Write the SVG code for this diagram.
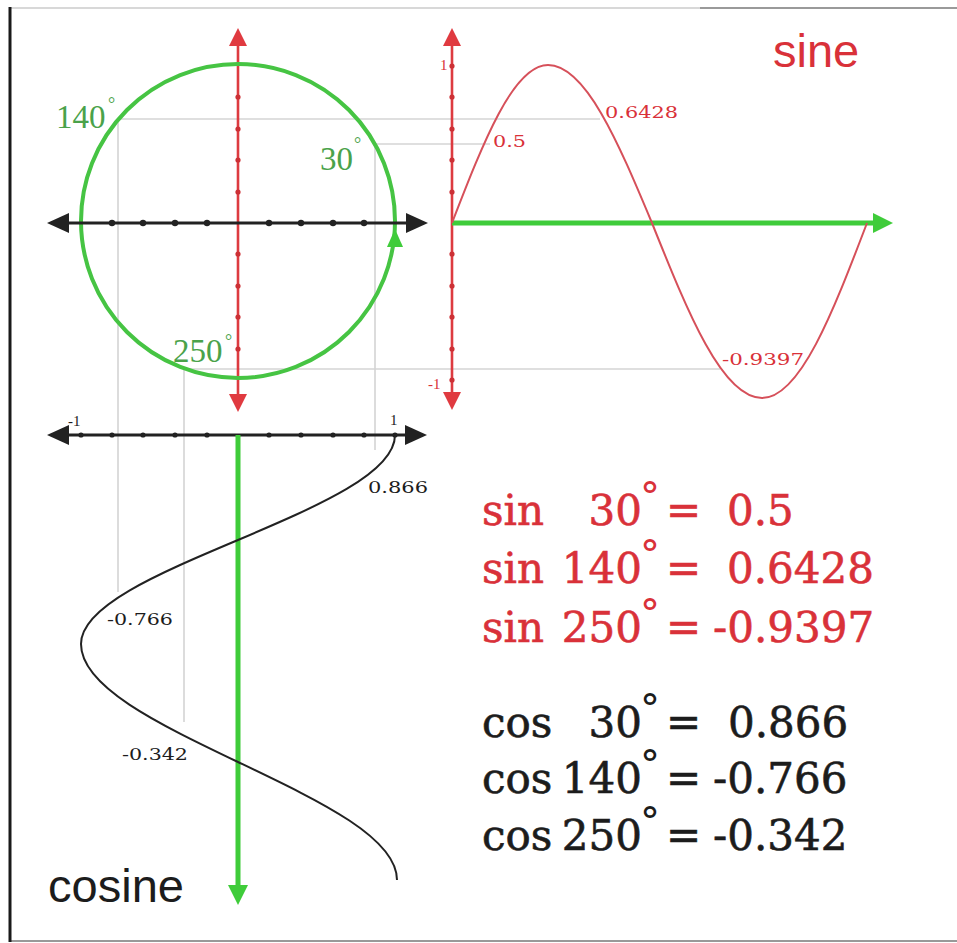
<svg xmlns="http://www.w3.org/2000/svg" width="957" height="943" viewBox="0 0 957 943">
<style>
.guide{stroke:#d4d4d4;stroke-width:1.6;fill:none}
.bax{stroke:#222;stroke-width:3;fill:none}
.rax{stroke:#dd3b40;stroke-width:2.6;fill:none}
.gax{stroke:#3fcc3a;stroke-width:5;fill:none}
.btick{fill:#222}
.rtick{fill:#cc3035}
.eq{font-family:"DejaVu Serif","Liberation Serif",serif;font-size:42px;stroke-width:0.6}
.deg{font-family:"DejaVu Serif","Liberation Serif",serif;font-size:40px}
.red{fill:#d93139}
.blk{fill:#1c1c1c}
#sin-values .eq{stroke:#d93139}
#cos-values .eq{stroke:#1c1c1c}
.glab{font-family:"Liberation Serif","Times New Roman",serif;font-size:33px;fill:#4aa24a}
.gdeg{font-family:"Liberation Serif","Times New Roman",serif;font-size:18px;fill:#4aa24a}
.small{font-family:"DejaVu Serif","Liberation Serif",serif;font-size:16px}
.ax{font-family:"Liberation Serif","Times New Roman",serif;font-size:15px}
.title{font-family:"Liberation Sans",Arial,sans-serif;font-size:47px}
</style>
<defs>
<marker id="ab" markerUnits="userSpaceOnUse" markerWidth="22" markerHeight="20" refX="0" refY="10" orient="auto-start-reverse"><path d="M0,0 L22,10 L0,20 z" fill="#222"/></marker>
<marker id="ar" markerUnits="userSpaceOnUse" markerWidth="18" markerHeight="18" refX="0" refY="9" orient="auto-start-reverse"><path d="M0,0 L18,9 L0,18 z" fill="#e03a40"/></marker>
<marker id="ag" markerUnits="userSpaceOnUse" markerWidth="20" markerHeight="20" refX="0" refY="10" orient="auto-start-reverse"><path d="M0,0 L20,10 L0,20 z" fill="#3fcc3a"/></marker>
</defs>
<rect x="0" y="0" width="957" height="943" fill="#fff"/>
<g id="frame">
<line x1="10" y1="8" x2="957" y2="8" stroke="#d8d8d8" stroke-width="2"/>
<line x1="700" y1="8" x2="957" y2="8" stroke="#9a9a9a" stroke-width="2"/>
<line x1="10" y1="941" x2="957" y2="941" stroke="#999" stroke-width="2"/>
<line x1="10" y1="7" x2="10" y2="942" stroke="#1a1a1a" stroke-width="3"/>
</g>
<g id="connectors">
<line class="guide" x1="118" y1="119" x2="600" y2="119"/>
<line class="guide" x1="374" y1="144" x2="490" y2="144"/>
<line class="guide" x1="184" y1="369" x2="720" y2="369"/>
<line class="guide" x1="118" y1="119" x2="118" y2="592"/>
<line class="guide" x1="184" y1="369" x2="184" y2="722"/>
<line class="guide" x1="375" y1="143" x2="375" y2="450"/>
</g>
<g id="unit-circle">
<line class="rax" x1="238" y1="46" x2="238" y2="394" marker-start="url(#ar)" marker-end="url(#ar)"/>
<g class="rtick">
<circle cx="238" cy="97" r="2.6"/><circle cx="238" cy="129" r="2.6"/><circle cx="238" cy="160" r="2.6"/><circle cx="238" cy="192" r="2.6"/>
<circle cx="238" cy="254" r="2.6"/><circle cx="238" cy="286" r="2.6"/><circle cx="238" cy="317" r="2.6"/><circle cx="238" cy="349" r="2.6"/>
</g>
<circle cx="238" cy="221" r="157" fill="none" stroke="#46c443" stroke-width="4"/>
<line class="bax" x1="69" y1="223" x2="406" y2="223" marker-start="url(#ab)" marker-end="url(#ab)"/>
<g class="btick">
<circle cx="112" cy="223" r="3.2"/><circle cx="143" cy="223" r="3.2"/><circle cx="175" cy="223" r="3.2"/><circle cx="207" cy="223" r="3.2"/>
<circle cx="269" cy="223" r="3.2"/><circle cx="301" cy="223" r="3.2"/><circle cx="333" cy="223" r="3.2"/><circle cx="364" cy="223" r="3.2"/>
</g>
<path d="M395,229 L387,247 L403,247 z" fill="#3fcc3a"/>
<text class="glab" x="56" y="128">140</text><text class="gdeg" x="108" y="110">°</text>
<text class="glab" x="320" y="170">30</text><text class="gdeg" x="354" y="150">°</text>
<text class="glab" x="173" y="362">250</text><text class="gdeg" x="225" y="347">°</text>
</g>
<g id="sine-graph">
<line class="rax" x1="452" y1="46" x2="452" y2="392" marker-start="url(#ar)" marker-end="url(#ar)"/>
<g class="rtick">
<circle cx="452" cy="66" r="2.6"/><circle cx="452" cy="97" r="2.6"/><circle cx="452" cy="129" r="2.6"/><circle cx="452" cy="160" r="2.6"/><circle cx="452" cy="192" r="2.6"/>
<circle cx="452" cy="254" r="2.6"/><circle cx="452" cy="286" r="2.6"/><circle cx="452" cy="317" r="2.6"/><circle cx="452" cy="349" r="2.6"/><circle cx="452" cy="380" r="2.6"/>
</g>
<text class="ax red" x="440" y="70">1</text>
<text class="ax red" x="428" y="389">-1</text>
<line class="gax" x1="452" y1="223" x2="873" y2="223" marker-end="url(#ag)"/>
<path d="M452,223 C483.3,142.1 513.3,65 548,65 C585.6,65 618.1,142.1 652,223 C687.9,312.6 722.2,398 762,398 C800,398 832.8,312.6 867,223" fill="none" stroke="#d6505a" stroke-width="2"/>
<text class="small red" x="493" y="147" textLength="33" lengthAdjust="spacingAndGlyphs">0.5</text>
<text class="small red" x="605" y="118" textLength="73" lengthAdjust="spacingAndGlyphs">0.6428</text>
<text class="small red" x="722" y="365" textLength="82" lengthAdjust="spacingAndGlyphs">-0.9397</text>
<text class="title red" x="773" y="67">sine</text>
</g>
<g id="cosine-graph">
<line class="bax" x1="69" y1="435" x2="405" y2="435" marker-start="url(#ab)" marker-end="url(#ab)"/>
<g class="btick">
<circle cx="81" cy="435" r="2.6"/><circle cx="112" cy="435" r="2.6"/><circle cx="143" cy="435" r="2.6"/><circle cx="175" cy="435" r="2.6"/><circle cx="207" cy="435" r="2.6"/>
<circle cx="269" cy="435" r="2.6"/><circle cx="301" cy="435" r="2.6"/><circle cx="333" cy="435" r="2.6"/><circle cx="364" cy="435" r="2.6"/><circle cx="395" cy="435" r="2.6"/>
</g>
<text class="ax blk" x="68" y="426">-1</text>
<text class="ax blk" x="390" y="425">1</text>
<line class="gax" x1="238" y1="435" x2="238" y2="885" marker-end="url(#ag)"/>
<path d="M395,435 C395,473 318.4,505.8 238,540 C157.6,573.9 81,606.4 81,644 C81,686.7 157.6,723.5 238,762 C318.4,800.5 397,837.3 397,880" fill="none" stroke="#222" stroke-width="2"/>
<text class="small blk" x="368" y="493" textLength="60" lengthAdjust="spacingAndGlyphs">0.866</text>
<text class="small blk" x="107" y="625" textLength="66" lengthAdjust="spacingAndGlyphs">-0.766</text>
<text class="small blk" x="122" y="760" textLength="66" lengthAdjust="spacingAndGlyphs">-0.342</text>
<text class="title blk" x="48" y="902" textLength="136" lengthAdjust="spacingAndGlyphs">cosine</text>
</g>
<g id="sin-values" class="red">
<text class="eq" x="482" y="525">sin</text><text class="eq" x="642" y="525" text-anchor="end">30</text><text class="deg" x="640" y="510">°</text><text class="eq" x="666" y="525">=</text><text class="eq" x="727" y="525">0.5</text>
<text class="eq" x="482" y="583">sin</text><text class="eq" x="642" y="583" text-anchor="end">140</text><text class="deg" x="640" y="568">°</text><text class="eq" x="666" y="583">=</text><text class="eq" x="727" y="583">0.6428</text>
<text class="eq" x="482" y="642">sin</text><text class="eq" x="642" y="642" text-anchor="end">250</text><text class="deg" x="640" y="627">°</text><text class="eq" x="666" y="642">=</text><text class="eq" x="713" y="642">-0.9397</text>
</g>
<g id="cos-values" class="blk">
<text class="eq" x="482" y="737">cos</text><text class="eq" x="642" y="737" text-anchor="end">30</text><text class="deg" x="640" y="722">°</text><text class="eq" x="666" y="737">=</text><text class="eq" x="728" y="737">0.866</text>
<text class="eq" x="482" y="793">cos</text><text class="eq" x="642" y="793" text-anchor="end">140</text><text class="deg" x="640" y="778">°</text><text class="eq" x="666" y="793">=</text><text class="eq" x="713" y="793">-0.766</text>
<text class="eq" x="482" y="850">cos</text><text class="eq" x="642" y="850" text-anchor="end">250</text><text class="deg" x="640" y="835">°</text><text class="eq" x="666" y="850">=</text><text class="eq" x="713" y="850">-0.342</text>
</g>
</svg>
